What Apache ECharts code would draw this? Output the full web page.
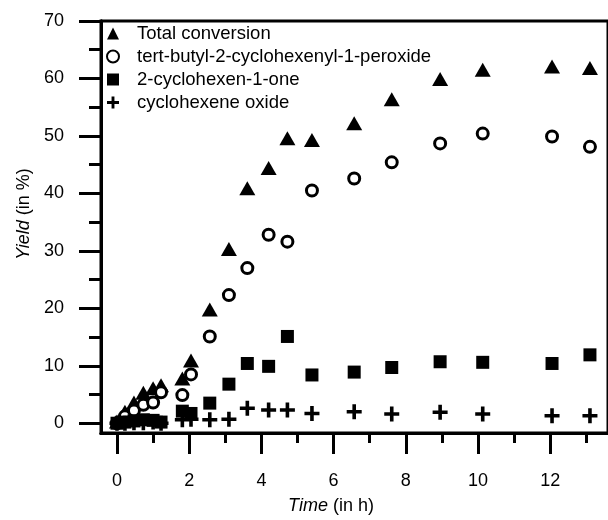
<!DOCTYPE html>
<html>
<head>
<meta charset="utf-8">
<script src="https://cdn.jsdelivr.net/npm/echarts@6/dist/echarts.min.js"></script>
<style>
	html, body { margin: 0; padding: 0; background: #fff; }
	#chart { width: 608px; height: 520px; }
</style>
</head>
<body>
<div id="chart"></div>
<script>
// reaction time in h
const time = [0, 0.22, 0.47, 0.73, 1.0, 1.22, 1.81, 2.05, 2.57, 3.1, 3.61, 4.2, 4.72, 5.4, 6.57, 7.61, 8.95, 10.13, 12.05, 13.1]

const totalConversion = [0.3, 2.0, 3.6, 5.3, 6.1, 6.6, 7.8, 10.9, 19.8, 30.3, 40.9, 44.4, 49.6, 49.3, 52.2, 56.4, 59.9, 61.5, 62.1, 61.8]
const peroxide = [0, 1.2, 2.2, 3.2, 3.6, 5.4, 4.9, 8.5, 15.1, 22.3, 27.0, 32.8, 31.6, 40.5, 42.6, 45.4, 48.7, 50.4, 49.9, 48.1]
const enone = [0, 0.2, 0.4, 0.6, 0.5, 0.2, 2.1, 1.7, 3.5, 6.8, 10.4, 9.9, 15.1, 8.4, 8.9, 9.7, 10.7, 10.6, 10.4, 11.9]
const oxide = [0, 0, 0.1, 0.1, 0.2, 0, 0.6, 0.7, 0.6, 0.7, 2.6, 2.3, 2.3, 1.7, 2.0, 1.6, 1.9, 1.6, 1.3, 1.3]

const xMajor = [0, 2, 4, 6, 8, 10, 12]
const xMinor = [1, 3, 5, 7, 9, 11, 13]
const yMajor = [0, 10, 20, 30, 40, 50, 60, 70]
const yMinor = [5, 15, 25, 35, 45, 55, 65]

const seriesNames = ['Total conversion', 'tert-butyl-2-cyclohexenyl-1-peroxide', '2-cyclohexen-1-one', 'cyclohexene oxide']

const plusPath = 'path://M3.8,0H6.2V3.8H10V6.2H6.2V10H3.8V6.2H0V3.8H3.8Z'

const pairs = (ys) => time.map((t, i) => [t, ys[i]])

const myChart = echarts.init(document.getElementById('chart'), null, { renderer: 'canvas' })

const font = 'Liberation Sans, Arial, sans-serif'
const axisLine = { show: true, onZero: false, lineStyle: { color: '#000', width: 3 } }

let option = {
	animation: false,
	textStyle: { fontFamily: font },
	grid: {
		left: 101,
		top: 21,
		right: -10,
		bottom: 87,
		show: true,
		borderColor: '#000',
		borderWidth: 3,
		backgroundColor: 'transparent',
	},
	legend: {
		orient: 'vertical',
		left: 106,
		top: 24,
		padding: 0,
		itemWidth: 12,
		itemHeight: 12,
		itemGap: 4,
		data: seriesNames,
		textStyle: { fontSize: 18.5, color: '#000', fontFamily: font, padding: [0, 0, 0, 13] },
	},
	xAxis: [
		{
			type: 'value',
			min: -0.443,
			max: 13.6,
			name: '{i|Time} (in h)',
			nameLocation: 'middle',
			nameGap: 64,
			nameMoveOverlap: false,
			nameTextStyle: {
				fontSize: 18,
				color: '#000',
				padding: [0, 47, 0, 0],
				rich: { i: { fontStyle: 'italic', fontSize: 18, color: '#000' } },
			},
			splitLine: { show: false },
			axisLine: axisLine,
			axisTick: { show: true, customValues: xMajor, length: 21, lineStyle: { color: '#000', width: 3 } },
			axisLabel: { customValues: xMajor, margin: 39, fontSize: 18, color: '#000' },
		},
		{
			type: 'value',
			position: 'bottom',
			min: -0.443,
			max: 13.6,
			splitLine: { show: false },
			axisLine: axisLine,
			axisTick: { show: true, customValues: xMinor, length: 10, lineStyle: { color: '#000', width: 3 } },
			axisLabel: { show: false },
		},
	],
	yAxis: [
		{
			type: 'value',
			min: -1.7,
			max: 70,
			name: '{i|Yield} (in %)',
			nameLocation: 'middle',
			nameGap: 68,
			nameMoveOverlap: false,
			nameTextStyle: {
				fontSize: 18,
				color: '#000',
				padding: [0, 0, 0, 26],
				rich: { i: { fontStyle: 'italic', fontSize: 18, color: '#000' } },
			},
			splitLine: { show: false },
			axisLine: axisLine,
			axisTick: { show: true, customValues: yMajor, length: 22, lineStyle: { color: '#000', width: 3 } },
			axisLabel: { customValues: yMajor, margin: 37, fontSize: 18, color: '#000' },
		},
		{
			type: 'value',
			position: 'left',
			min: -1.7,
			max: 70,
			splitLine: { show: false },
			axisLine: axisLine,
			axisTick: { show: true, customValues: yMinor, length: 12, lineStyle: { color: '#000', width: 3 } },
			axisLabel: { show: false },
		},
	],
	series: [
		{
			name: seriesNames[0],
			type: 'scatter',
			symbol: 'triangle',
			symbolSize: [16, 14],
			itemStyle: { color: '#000', opacity: 1 },
			data: pairs(totalConversion),
		},
		{
			name: seriesNames[1],
			type: 'scatter',
			symbol: 'circle',
			symbolSize: 11,
			itemStyle: { color: '#fff', borderColor: '#000', borderWidth: 3, opacity: 1 },
			data: pairs(peroxide),
		},
		{
			name: seriesNames[2],
			type: 'scatter',
			symbol: 'rect',
			symbolSize: 13,
			itemStyle: { color: '#000', opacity: 1 },
			data: pairs(enone),
		},
		{
			name: seriesNames[3],
			type: 'scatter',
			symbol: plusPath,
			symbolSize: 15,
			itemStyle: { color: '#000', opacity: 1 },
			data: pairs(oxide),
		},
	],
}
myChart.setOption(option)

window.addEventListener('resize', () => {
	myChart.resize()
})
</script>
</body>
</html>
